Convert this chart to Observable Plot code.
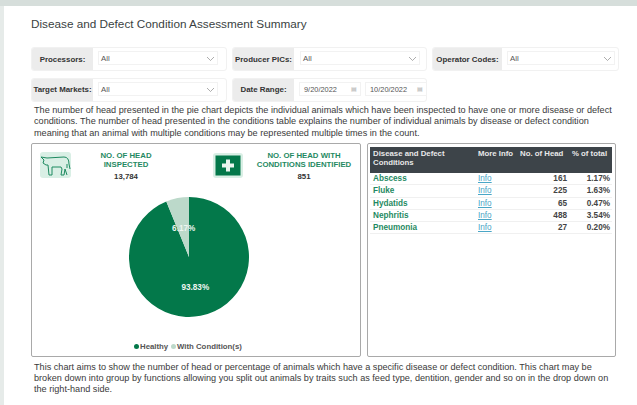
<!DOCTYPE html>
<html><head><meta charset="utf-8">
<script src="https://cdn.jsdelivr.net/npm/d3@7"></script>
<script src="https://cdn.jsdelivr.net/npm/@observablehq/plot@0.6"></script>
<style>
html,body{margin:0;padding:0;background:#fff;}
body{width:637px;height:405px;overflow:hidden;position:relative;font-family:"Liberation Sans",Arial,sans-serif;color:#333;}
.a{position:absolute;}
.band{background:#d6dedb;}
.title{left:31px;top:17px;font-size:11.75px;color:#3a3f42;white-space:nowrap;}
.filter{border:1px solid #f1f1f1;border-radius:3px;box-sizing:border-box;height:24px;display:flex;}
.filter .lab{background:#ececec;font-weight:bold;font-size:7.9px;color:#333;display:flex;align-items:center;justify-content:center;border-radius:2px 0 0 2px;white-space:nowrap;}
.sel{position:absolute;top:3px;height:14px;border:1px solid #f2f2f2;box-sizing:border-box;font-size:7.8px;color:#555;line-height:13px;padding-left:2px;white-space:nowrap;}
.sel.date{font-size:7.4px;padding-left:4px;}
.sel svg{position:absolute;right:2px;top:4px;}
.para{left:34px;font-size:9.15px;line-height:11.4px;color:#3a3a3a;white-space:nowrap;}
.panel{border:1px solid #a9a9a9;border-radius:2px;box-sizing:border-box;}
.kpi{text-align:center;font-weight:bold;font-size:7.8px;line-height:9px;color:#1f8a62;white-space:nowrap;transform:translateX(-50%);}
.kpi div{color:#333;margin-top:3px;}
.leg{font-size:7.8px;font-weight:bold;color:#555;white-space:nowrap;}
.dot{width:5px;height:5px;border-radius:50%;}
table{border-collapse:collapse;font-size:8.2px;table-layout:fixed;}
th{background:#3d4449;color:#e8e8e8;font-weight:bold;font-size:7.8px;text-align:left;vertical-align:top;padding:2px 2px 0 3px;line-height:9px;height:25.5px;box-sizing:border-box;}
td{height:12.25px;padding:0 2px 0 3px;box-sizing:border-box;border-bottom:1px solid #f0f0f0;font-weight:bold;color:#444;}
td.n{text-align:right;}
td.c{color:#1f8a62;}
td.i{color:#4aa6c6;font-weight:normal;text-decoration:underline;}
</style></head>
<body>
<script>
const pieLabels = ["Healthy", "With Condition(s)"];
const pieHead = [12933, 851];
const piePercentLabels = ["93.83%", "6.17%"];
const pieColors = ["#03784a", "#bcd9ca"];
const conditions = ["Abscess", "Fluke", "Hydatids", "Nephritis", "Pneumonia"];
const conditionHead = [161, 225, 65, 488, 27];
const conditionPercent = ["1.17%", "1.63%", "0.47%", "3.54%", "0.20%"];
const tableColumns = ["Disease and Defect Conditions", "More Info", "No. of Head", "% of total"];
const paragraphTop = ["The number of head presented in the pie chart depicts the individual animals which have been inspected to have one or more disease or defect",
  "conditions. The number of head presented in the conditions table explains the number of individual animals by disease or defect condition",
  "meaning that an animal with multiple conditions may be represented multiple times in the count."];
const paragraphBottom = ["This chart aims to show the number of head or percentage of animals which have a specific disease or defect condition. This chart may be",
  "broken down into group by functions allowing you split out animals by traits such as feed type, dentition, gender and so on in the drop down on",
  "the right-hand side."];

const body = document.body;
function add(cls, css, html){const d=document.createElement("div");d.className="a "+cls;d.style.cssText=css;if(html!=null)d.innerHTML=html;body.appendChild(d);return d;}
add("band","left:0;top:0;width:637px;height:6px");
add("band","left:0;top:0;width:4px;height:405px;opacity:.6");
add("title","","Disease and Defect Condition Assessment Summary");

const chev='<svg width="9" height="6" viewBox="0 0 9 6"><path d="M1 1 L4.5 4.5 L8 1" fill="none" stroke="#8a8a8a" stroke-width=".7"/></svg>';
function filter(x,y,w,lw,label){
  const f=add("filter",`left:${x}px;top:${y}px;width:${w}px`);
  f.innerHTML=`<div class="lab" style="width:${lw}px">${label}</div>`;
  return f;
}
function sel(f,x,w,text,icon){
  const s=document.createElement("div");s.className="sel"+(icon?" date":"");s.style.left=x+"px";s.style.width=w+"px";
  s.innerHTML=text+(icon?`<span style="position:absolute;right:3px;top:0;color:#aaa;font-size:6px">▤</span>`:chev);
  f.appendChild(s);
}
sel(filter(31,47,196,61,"Processors:"),66,120,"All");
sel(filter(232,47,195,61,"Producer PICs:"),67,120,"All");
sel(filter(432,47,187,69,"Operator Codes:"),74,108,"All");
sel(filter(31,77.5,196,61,"Target Markets:"),66,120,"All");
const dr=filter(232,77.5,195,61,"Date Range:");
sel(dr,66,62,"9/20/2022",true);sel(dr,132,62,"10/20/2022",true);

add("para","top:105px",paragraphTop.join("<br>"));
add("panel","left:31px;top:143px;width:330px;height:214px");
add("panel","left:367px;top:143px;width:249px;height:214px");

// KPI icons
add("","left:40px;top:152px;width:31px;height:26px;background:#d9efe5;border-radius:3px",
 `<svg width="31" height="26" viewBox="0 0 31 26"><path d="M1 5 L4 8 L3 11 L6 13 L8 13 L9 23 L12 23 L12 15 L21 15 L22 17 L21 23 L24 23 L25 17 L26 20 L27 23 M1 5 L7 6 L24 5 Q29 5 29 12 L30 17 M27 12 L27 16" fill="none" stroke="#1d8a60" stroke-width="1"/></svg>`);
add("","left:213px;top:153px;width:30px;height:25px;background:#d9efe5;border-radius:3px",
 `<svg width="30" height="25" viewBox="0 0 30 25"><rect x="2.5" y="2.5" width="25" height="20" fill="#03784a"/><path d="M15 6.5 V18.5 M9 12.5 H21" stroke="#e9f5ef" stroke-width="4"/></svg>`);
add("kpi","left:126px;top:151px","NO. OF HEAD<br>INSPECTED<div>13,784</div>");
add("kpi","left:304px;top:151px","NO. OF HEAD WITH<br>CONDITIONS IDENTIFIED<div>851</div>");

// Pie drawn through Plot: unit-circle x/y scales, ordinal colour scale
const color = Plot.scale({color:{type:"ordinal",domain:pieLabels,range:pieColors}});
const slices = d3.pie().sort(null)(pieHead).map((s,i)=>({...s,label:pieLabels[i],pct:piePercentLabels[i]}));
const unitArc = d3.arc().innerRadius(0).outerRadius(1);
const labelRows = slices.map(s=>{const [cx,cy]=unitArc.centroid(s);return {cx,cy,pct:s.pct};});
const chart = Plot.plot({
  width:330, height:214, margin:0,
  x:{domain:[-1,1],range:[98,218],axis:null},
  y:{domain:[-1,1],range:[54,174],axis:null},
  marks:[
    (index,{x,y})=>{
      const r=x(1)-x(0);
      const g=d3.create("svg:g").attr("transform",`translate(${x(0)},${y(0)})`);
      const arc=d3.arc().innerRadius(0).outerRadius(r);
      g.selectAll("path").data(slices).join("path").attr("d",arc).attr("fill",d=>color.apply(d.label));
      return g.node();
    },
    Plot.text(labelRows,{x:"cx",y:"cy",text:"pct",fill:"#eef6f1",fontSize:8.2,fontWeight:"bold",fontFamily:"Liberation Sans"})
  ]
});
chart.style.cssText="position:absolute;left:31px;top:143px;background:transparent;max-width:none";
body.appendChild(chart);

// legend
add("dot",`left:133.5px;top:343.5px;background:${color.apply(pieLabels[0])}`);
add("leg","left:140px;top:341.5px",pieLabels[0]);
add("dot",`left:171px;top:343.5px;background:${color.apply(pieLabels[1])}`);
add("leg","left:177px;top:341.5px",pieLabels[1]);

// table
const widths=[105,42,52,43];
const rows=conditions.map((c,i)=>`<tr><td class="c">${c}</td><td class="i">Info</td><td class="n">${conditionHead[i]}</td><td class="n">${conditionPercent[i]}</td></tr>`).join("");
add("","left:370px;top:147px",`<table style="width:${d3.sum(widths)}px"><colgroup>${widths.map(w=>`<col style="width:${w}px">`).join("")}</colgroup><tr>${tableColumns.map(t=>`<th>${t}</th>`).join("")}</tr>${rows}</table>`);

add("para","top:361.5px",paragraphBottom.join("<br>"));
</script>
</body></html>
